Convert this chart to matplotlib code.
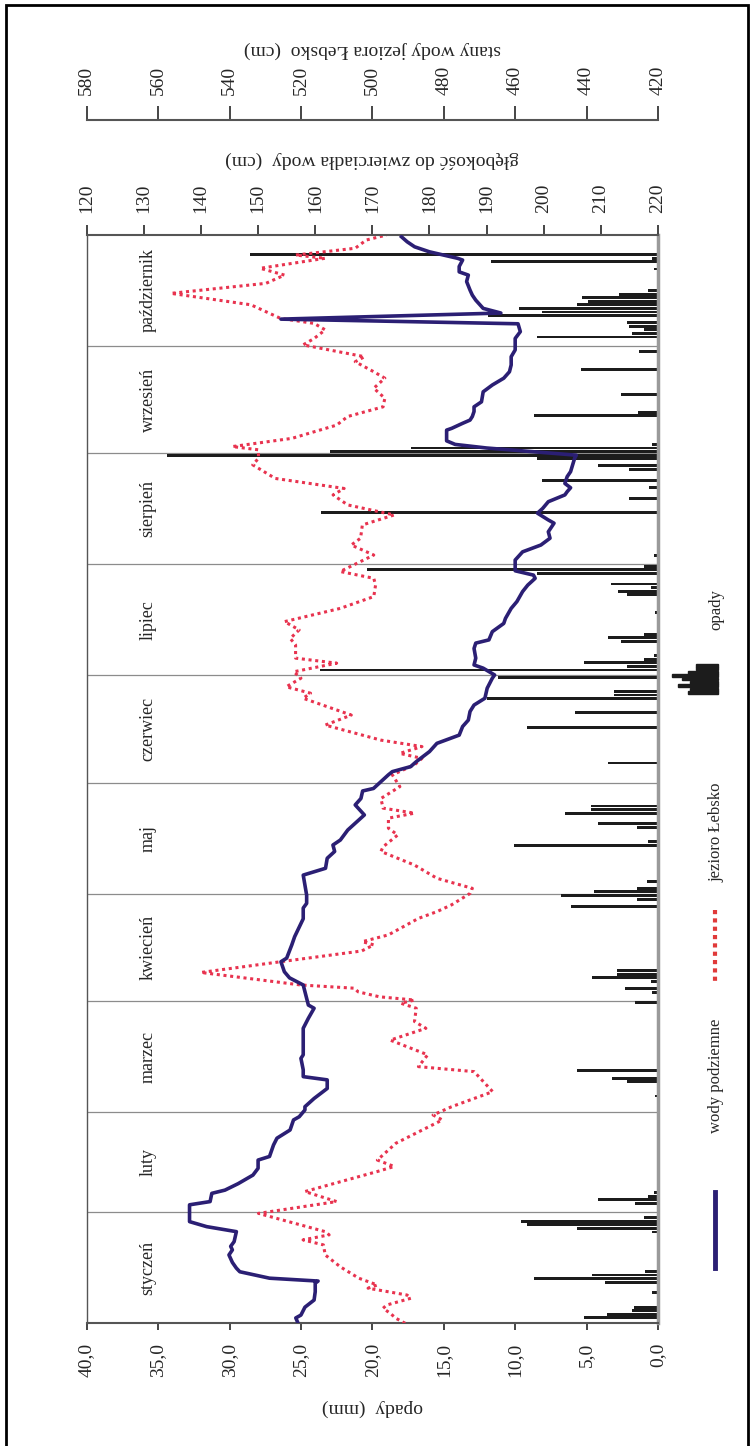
import numpy as np
import matplotlib.pyplot as plt
from matplotlib.lines import Line2D
from matplotlib.patches import Rectangle

plt.rcParams['font.family'] = ['Liberation Serif', 'DejaVu Serif']

# months (Jan - Oct)
months = ['styczeń', 'luty', 'marzec', 'kwiecień', 'maj', 'czerwiec',
          'lipiec', 'sierpień', 'wrzesień', 'październik']
month_days = [31, 28, 31, 30, 31, 30, 31, 31, 30, 31]

# daily precipitation (day index from 1 Jan, mm), only rainy days
prec_day = [1, 2, 3, 4, 8, 11, 12, 13, 14, 25, 26, 27, 28, 29,
            33, 34, 35, 36, 63, 67, 68, 70, 89, 92, 93, 95, 96, 97, 98,
            116, 118, 119, 120, 121, 123, 133, 134, 138, 139, 142, 143, 144,
            156, 166, 170, 174, 175, 176, 180, 182, 183, 184, 185, 186,
            190, 191, 192, 198, 203, 204, 205, 206, 209, 210, 211,
            214, 226, 230, 233, 235, 238, 239, 241, 242, 243, 244, 245,
            253, 254, 259, 266, 271, 275, 276, 277, 278, 279,
            281, 282, 283, 284, 285, 286, 287, 288, 294, 296, 297, 298]
prec_mm = [5.2, 3.6, 1.8, 1.7, 0.4, 3.7, 8.7, 4.6, 0.9, 0.4, 5.7, 9.2, 9.6, 1.0,
           1.6, 4.2, 0.7, 0.3, 0.2, 2.2, 3.2, 5.7, 1.6, 0.4, 2.3, 0.5, 4.6, 2.9, 2.9,
           6.1, 1.5, 6.8, 4.5, 1.5, 0.8, 10.1, 0.7, 1.5, 4.2, 6.5, 4.7, 4.7,
           3.5, 9.2, 5.8, 12.0, 3.1, 3.1, 11.2, 23.7, 2.2, 5.2, 1.0, 0.3,
           2.6, 3.5, 1.0, 0.2, 2.2, 2.8, 0.5, 3.3, 8.5, 20.4, 1.0,
           0.3, 23.6, 2.0, 0.6, 8.1, 2.0, 4.2, 8.5, 34.4, 23.0, 17.3, 0.4,
           8.7, 1.4, 2.6, 5.4, 1.3, 8.5, 1.8, 1.0, 2.0, 2.2,
           11.9, 8.1, 9.7, 5.7, 4.9, 5.3, 2.7, 0.7, 0.3, 11.7, 0.4, 28.6]

# groundwater depth (cm below surface)
gw_day = [0, 1.5, 2.3, 4.5, 6.5, 8.8, 11.2, 11.8, 12.6, 14.4, 15.4, 17, 19.1, 20.5,
          21.5, 22.8, 25.6, 27, 28.4, 33.1, 34, 36.3, 37.2, 39, 41.4, 43.3, 45.6,
          46.6, 49.8, 51.7, 54, 55.4, 56.8, 57.7, 59.6, 60.5, 62.8, 65.6, 68, 68.9,
          70.8, 74, 75, 82.4, 85.2, 88, 88.9, 92.6, 94.5, 96.5, 98.2, 101, 102,
          105.7, 108, 113, 116, 117.3, 119.6, 122.4, 125.2, 127.1, 129.9, 131.8,
          133.6, 135, 137.8, 142, 144.8, 146.6, 148.7, 149.4, 153.2, 154.1, 155.5,
          156.9, 159.7, 162, 164.3, 166.7, 168.5, 170.9, 172.7, 174.6, 177.4,
          180.2, 181.1, 183, 183.9, 185.8, 188.5, 190, 190.9, 193.2, 195.5, 196.9,
          199.7, 201.6, 204.4, 206.2, 208.1, 209, 210.2, 213.2, 215.5, 217.4,
          219.3, 221.1, 223.5, 224.4, 226.3, 227.6, 229.5, 231.4, 232.3, 233.4,
          234.6, 236.5, 237.9, 241.6, 242.5, 243.6, 244.5, 245.5, 246.5, 249.5,
          250, 251.4, 252.3, 253.3, 254.7, 256, 257.4, 260.2, 262.1, 264, 265.8,
          267.7, 270, 271.9, 275.1, 277, 279.2, 280.5, 282.2, 283.5, 285.8, 287.2,
          288.6, 291, 292.8, 293.7, 295.2, 297, 297.5, 299.3, 300.7, 302.1, 303.5]
gw_cm = [157.0, 156.6, 157.5, 158.2, 159.8, 160.0, 160.0, 160.5, 152.0, 146.8, 146.2,
         145.5, 144.9, 145.5, 145.2, 145.8, 146.2, 141.0, 138.0, 138.0, 141.6, 141.9,
         144.2, 146.5, 149.1, 150.0, 150.0, 152.0, 152.7, 153.3, 155.6, 155.9, 156.2,
         157.2, 158.2, 158.2, 159.8, 162.1, 162.1, 157.9, 157.9, 157.5, 157.9, 157.9,
         158.8, 159.8, 158.8, 158.2, 157.9, 155.5, 154.6, 154.0, 155.0, 155.9, 156.4,
         157.9, 157.9, 158.5, 158.5, 158.2, 157.9, 161.8, 162.1, 163.4, 163.1, 164.4,
         165.7, 168.6, 167.0, 168.0, 168.3, 170.2, 172.8, 173.5, 176.7, 177.7, 180.0,
         181.3, 185.2, 185.8, 186.8, 187.1, 187.8, 189.7, 190.1, 191.0, 191.4, 189.4,
         187.8, 188.1, 187.8, 188.1, 190.4, 191.0, 193.0, 193.3, 194.3, 195.3, 196.3,
         197.2, 198.5, 198.2, 195.0, 195.0, 196.3, 199.5, 201.1, 200.8, 201.8, 200.8,
         198.9, 199.8, 200.8, 203.7, 204.1, 204.7, 203.7, 204.1, 204.7, 205.4, 205.7,
         197.0, 190.0, 184.5, 183.0, 183.0, 183.9, 185.8, 187.1, 187.5, 187.8, 187.8,
         189.1, 189.4, 191.0, 193.0, 194.0, 194.3, 194.3, 195.0, 195.0, 195.9, 195.5,
         154.0, 192.5, 189.4, 188.1, 187.5, 187.1, 186.5, 186.8, 185.2, 185.2, 185.8,
         184.9, 180.0, 177.4, 176.1, 175.1]

# Lake Łebsko water level (cm)
lake_day = [0, 1.4, 2.8, 4.2, 5.1, 7.0, 7.9, 9.8, 10.7, 12.6, 15.8, 19.1, 21.9, 23.3,
            24.7, 25.6, 30.7, 34.0, 36.8, 42.4, 43.8, 45.6, 50.3, 56.8, 58.2, 60.5,
            64.7, 70.3, 71.7, 75, 79.1, 82.4, 84.3, 88, 89.4, 90.3, 91.2, 92.6, 93.6,
            94.5, 98.0, 101, 104, 105.7, 106.6, 108.5, 113.1, 115, 116.9, 120.1, 121.5,
            124.3, 128, 131.8, 133.1, 136.4, 138.3, 141.1, 142.5, 143.9, 146.6, 149.9,
            153.2, 156, 157.8, 159.2, 161.1, 162.9, 167.1, 169.9, 174.6, 176, 177.8,
            180.2, 182, 184.4, 185.8, 189.5, 191.3, 193.7, 196, 199.7, 203, 206.2,
            208.1, 210, 214.6, 217.4, 219.3, 223, 225.8, 228.6, 231.4, 233.2, 236,
            239.8, 241.6, 244, 244.9, 247.2, 250.9, 253.3, 256, 258.4, 261.2, 264,
            265.8, 268.6, 270, 273.3, 275.1, 277.5, 279.3, 280.7, 284.5, 287.7, 290.5,
            292.8, 294.7, 297.5, 298.4, 300.3, 302.6, 304]
lake_cm = [490.8, 493.4, 495.0, 497.0, 496.0, 489.2, 490.3, 501.2, 498.6, 503.8, 509.0,
           513.2, 513.7, 519.4, 512.1, 513.2, 531.9, 510.0, 518.9, 498.6, 493.9, 498.6,
           493.4, 480.4, 483.0, 477.8, 466.3, 471.5, 487.1, 484.5, 495.0, 485.0, 488.2,
           487.7, 492.0, 488.2, 498.0, 504.0, 505.0, 520.0, 548.0, 525.7, 503.0, 499.6,
           502.8, 495.5, 487.1, 481.9, 477.8, 472.6, 472.0, 481.9, 488.2, 497.6, 497.0,
           492.9, 495.5, 495.5, 488.2, 497.0, 497.6, 492.3, 494.4, 488.2, 486.1, 492.3,
           486.1, 497.6, 513.2, 505.9, 519.4, 517.3, 524.1, 520.0, 522.0, 510.0, 521.5,
           521.5, 523.0, 520.5, 524.6, 509.0, 499.6, 499.1, 499.6, 509.0, 499.6, 505.9,
           503.3, 502.8, 493.9, 506.9, 511.0, 507.9, 527.2, 533.5, 531.9, 531.9, 539.2,
           522.5, 510.0, 506.9, 497.0, 496.5, 499.6, 496.5, 499.6, 504.8, 502.2, 519.4,
           516.3, 513.2, 516.3, 525.7, 534.0, 556.4, 529.8, 524.6, 531.4, 513.2, 521.5,
           504.8, 501.7, 496.0]

W, H = 752, 1446
fig = plt.figure(figsize=(W / 100, H / 100), dpi=100)


def fx(px):
    return px / W


def fy(py):
    return 1 - py / H


txt = '#262626'
left, right, top, bottom = 86.7, 658, 235, 1323.3
ax = fig.add_axes([fx(left), fy(bottom), (right - left) / W, (bottom - top) / H])

# precipitation bars
ax.barh(np.array(prec_day) + 0.5, prec_mm, height=0.8, color='#1c1c1c', zorder=2)
ax.set_xlim(40, 0)
ax.set_ylim(0, 304)
ax.set_yticks([])
ax.set_xticks(np.arange(0, 41, 5))
ax.set_xticklabels([f'{v:.1f}'.replace('.', ',') for v in np.arange(0, 41, 5)])
ax.tick_params(axis='x', rotation=90, labelsize=14, length=5, pad=9,
               colors=txt, width=1.2)
for s in ['left', 'bottom']:
    ax.spines[s].set_color('#555555')
ax.spines['left'].set_linewidth(1.0)
ax.spines['bottom'].set_linewidth(1.5)
ax.spines['right'].set_color('#9a9a9a')
ax.spines['right'].set_linewidth(2.5)
ax.spines['top'].set_visible(False)

# month separators and names
bounds = np.cumsum(month_days)
for b in bounds[:-1]:
    ax.axhline(b, color='#8c8c8c', lw=0.9, zorder=1)
mids = bounds - np.array(month_days) / 2
for name, m in zip(months, mids):
    ax.text(35.7, m, name, rotation=90, ha='center', va='center',
            fontsize=13, color=txt)

# lake level (own scale, drawn in the plot area)
ax_lake = ax.twiny()
ax_lake.set_xlim(580, 420)
ax_lake.plot(lake_cm, lake_day, color='#e8334f', lw=2.2, ls=(0, (1, 1.2)), zorder=3)
ax_lake.xaxis.set_visible(False)
for s in ax_lake.spines.values():
    s.set_visible(False)

# groundwater depth
ax_gw = ax.twiny()
ax_gw.set_xlim(120, 220)
ax_gw.plot(gw_cm, gw_day, color='#2b1f74', lw=2.6, solid_joinstyle='round', zorder=4)
ax_gw.set_xticks(np.arange(120, 221, 10))
ax_gw.tick_params(axis='x', rotation=90, labelsize=14, length=7, pad=9,
                  colors=txt, width=1.2)
for s in ['left', 'right', 'bottom']:
    ax_gw.spines[s].set_visible(False)
ax_gw.spines['top'].set_color('#555555')
ax_gw.spines['top'].set_linewidth(1.5)

# lake level scale strip
ax_ls = fig.add_axes([fx(left), fy(120), (right - left) / W, 0.0001])
ax_ls.set_xlim(580, 420)
ax_ls.set_ylim(0, 1)
ax_ls.set_yticks([])
ax_ls.set_xticks(np.arange(420, 581, 20))
ax_ls.xaxis.set_ticks_position('top')
ax_ls.tick_params(axis='x', top=True, bottom=False, labeltop=True, labelbottom=False,
                  rotation=90, labelsize=14, length=10, pad=8, colors=txt, width=1.2)
ax_ls.patch.set_visible(False)
for s in ['left', 'right', 'bottom']:
    ax_ls.spines[s].set_visible(False)
ax_ls.spines['top'].set_color('#555555')
ax_ls.spines['top'].set_linewidth(1.5)

# axis titles
fig.text(fx(372), fy(1408), 'opady  (mm)', rotation=180, ha='center', va='center',
         fontsize=14, color=txt)
fig.text(fx(372), fy(160), 'głębokość do zwierciadła wody  (cm)', rotation=180,
         ha='center', va='center', fontsize=14, color=txt)
fig.text(fx(372), fy(50), 'stany wody jeziora Łebsko  (cm)', rotation=180,
         ha='center', va='center', fontsize=14, color=txt)

# legend (rotated, drawn by hand)
fig.add_artist(Line2D([fx(715), fx(715)], [fy(1192), fy(1268)], color='#2b1f74',
                      lw=3.5, transform=fig.transFigure))
fig.text(fx(716), fy(1076), 'wody podziemne', rotation=90, ha='center', va='center',
         fontsize=12, color=txt)
fig.add_artist(Line2D([fx(715), fx(715)], [fy(910), fy(981)], color='#e03a3a',
                      lw=3.0, ls=(0, (1, 1)), transform=fig.transFigure))
fig.text(fx(716), fy(832), 'jezioro Łebsko', rotation=90, ha='center', va='center',
         fontsize=12, color=txt)
icon = [22, 22, 30, 46, 36, 28, 40, 28, 30]
for i, ln in enumerate(icon):
    yy = 664 + i * 3.4
    fig.add_artist(Rectangle((fx(718 - ln), fy(yy + 2.8)), ln / W, 2.8 / H,
                             color='#1c1c1c', transform=fig.transFigure))
fig.text(fx(716), fy(610), 'opady', rotation=90, ha='center', va='center',
         fontsize=12, color=txt)

# outer frame
fig.add_artist(Rectangle((fx(6), -0.01), (748 - 6) / W, fy(5) + 0.01, fill=False,
                         ec='black', lw=2, transform=fig.transFigure))

fig.savefig('out.png', dpi=100)
